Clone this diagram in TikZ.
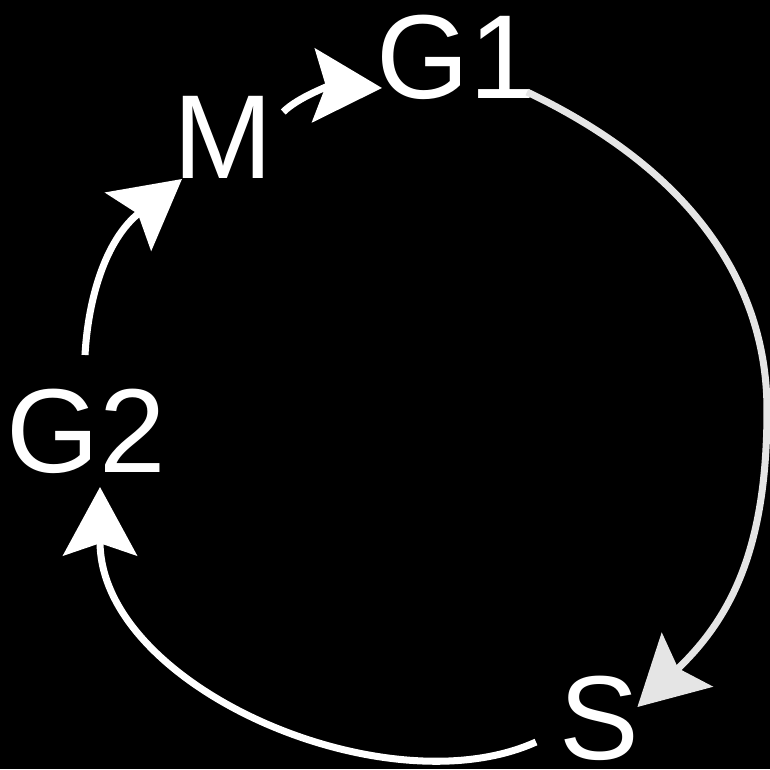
\documentclass[tikz,border=0pt]{standalone}
\usepackage{fontspec}
\setmainfont{Liberation Sans}
\usetikzlibrary{arrows.meta}

\begin{document}
\begin{tikzpicture}[x=0.02cm, y=-0.02cm,
    phase/.style={text=white, font=\fontsize{68}{80}\selectfont, inner sep=0pt, anchor=base west},
    cycarrow/.style={line width=4pt, white, -{Stealth[length=39pt, width=42pt, inset=7pt]}}]
    \fill[black] (0,0) rectangle (770,769);
    \useasboundingbox (0,0) rectangle (770,769);
    % phase labels
    \node[phase] (G1) at (376,98) {G1};
    \node[phase] (M) at (173,178) {M};
    \node[phase] (G2) at (6,472) {G2};
    \node[phase] (S) at (559.5,759) {S};
    % cycle arrows
    \draw[cycarrow] ([shift={(10,-66)}]M.base east) .. controls +(15,-15) and +(-52,-2) .. ([shift={(6,-10)}]G1.base west);
    \draw[cycarrow, black!10] ([shift={(-9,-6)}]G1.base east) .. controls +(174,83) and +(0,-118) .. (767,410)
      .. controls +(0,134) and +(96,-91) .. ([shift={(-2.5,-52)}]S.base east);
    \draw[cycarrow] ([shift={(-23.5,-17)}]S.base west) .. controls +(-150,68) and +(0,200) .. ([shift={(94,15)}]G2.base west);
    \draw[cycarrow] ([shift={(79,-117)}]G2.base west) .. controls +(3,-55) and +(-77,61) .. ([shift={(9,1)}]M.base west);
\end{tikzpicture}
\end{document}
